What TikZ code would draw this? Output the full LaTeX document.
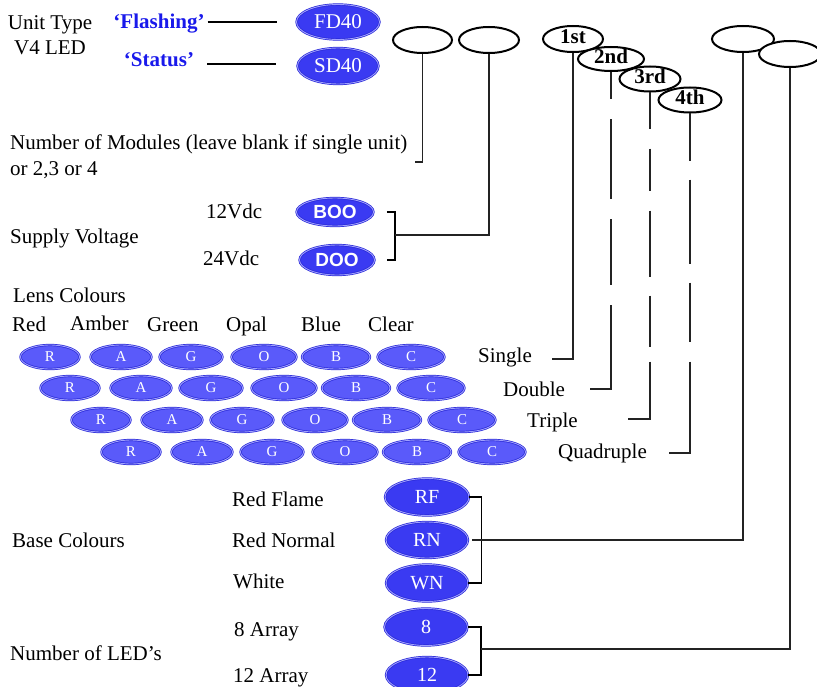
\documentclass[tikz,border=0pt]{standalone}
\usepackage{fontspec}
\setmainfont{Liberation Serif}
\newfontfamily\boosans{Liberation Sans}
\usetikzlibrary{shapes.geometric}
\definecolor{ellblue}{RGB}{58,58,242}
\definecolor{lensblue}{RGB}{90,90,250}
\definecolor{rimdark}{RGB}{40,40,215}
\definecolor{rimlight}{RGB}{160,160,255}
\definecolor{txtblue}{RGB}{25,25,235}
\definecolor{linegray}{RGB}{35,35,35}
\begin{document}
\begin{tikzpicture}[x=1bp,y=-1bp,
  lbl/.style={anchor=base west, inner sep=0pt, font=\fontsize{21bp}{24bp}\selectfont},
  clbl/.style={anchor=base, inner sep=0pt, font=\fontsize{21bp}{24bp}\selectfont},
  blueov/.style={ellipse, inner sep=0pt, draw=rimdark, line width=0.7bp, double=rimlight, double distance=0.9bp, text=white},
  bell/.style={blueov, fill=ellblue, font=\fontsize{21bp}{24bp}\selectfont},
  boo/.style={blueov, fill=ellblue, font=\boosans\bfseries\fontsize{19bp}{22bp}\selectfont},
  lens/.style={blueov, fill=lensblue, minimum height=24bp, font=\fontsize{15bp}{18bp}\selectfont},
  oval/.style={ellipse, draw=black, line width=2bp, fill=white, inner sep=0pt, text height=12bp, text depth=2bp, font=\fontsize{21bp}{24bp}\bfseries\selectfont},
  conn/.style={draw=linegray, line width=1.3bp},
  brk/.style={draw=black, line width=1.8bp},
]
\useasboundingbox (0,0) rectangle (817,687);

% Unit type
\node[clbl] (unitA) at (50,30) {Unit Type};
\node[clbl] (unitB) at (50,55) {V4 LED};
\node[clbl, text=txtblue, font=\fontsize{21bp}{24bp}\bfseries\selectfont] (flash) at (159,29) {‘Flashing’};
\node[clbl, text=txtblue, font=\fontsize{21bp}{24bp}\bfseries\selectfont] (status) at (159,67) {‘Status’};
\node[bell, minimum width=83bp, minimum height=35bp] (fd) at (338,22) {FD40};
\node[bell, minimum width=81bp, minimum height=36bp] (sd) at (338,66) {SD40};
\draw[conn, draw=black] (flash.east |- fd) ++(3,0) -- ++(69,0);
\draw[conn, draw=black] (status.east |- sd) ++(13,-2) -- ++(69,0);

% top ovals
\node[oval, minimum width=59bp, minimum height=26bp] (e1) at (422.5,40) {};
\node[oval, minimum width=60bp, minimum height=26bp] (e2) at (489,40) {};
\node[oval, minimum width=60bp, minimum height=26bp] (first) at (573,39) {1st};
\node[oval, minimum width=66bp, minimum height=24bp] (second) at (611,59) {2nd};
\node[oval, minimum width=61bp, minimum height=25bp] (third) at (650,79) {3rd};
\node[oval, minimum width=63bp, minimum height=25bp] (fourth) at (690,100) {4th};
\node[oval, minimum width=62bp, minimum height=26bp] (e5) at (743,39) {};
\node[oval, minimum width=62bp, minimum height=26bp] (e6) at (790,54) {};

% modules
\node[lbl] (mod1) at (10,150) {Number of Modules (leave blank if single unit)};
\node[lbl] (mod2) at (10,175) {or 2,3 or 4};
\coordinate (m1) at (415,162);
\draw[conn] (e1.south) |- (m1);

% supply
\node[lbl] (sup) at (10,243) {Supply Voltage};
\node[lbl] (v12) at (206,218) {12Vdc};
\node[lbl] (v24) at (203,265) {24Vdc};
\node[boo, minimum width=77bp, minimum height=28bp] (boo) at (335,212) {BOO};
\node[boo, minimum width=75bp, minimum height=30bp] (doo) at (337,260) {DOO};
\draw[brk] ([xshift=13bp]boo.east) -- ++(8,0) |- ([xshift=12bp]doo.east);
\coordinate (sv) at (395,235);
\draw[conn] (e2.south) |- (sv);

% lens colours
\node[lbl] (lensc) at (13,302) {Lens Colours};
\node[lbl] (hr) at (12,331) {Red};
\node[lbl] (ha) at (70,330) {Amber};
\node[lbl] (hg) at (147,331) {Green};
\node[lbl] (ho) at (226,331) {Opal};
\node[lbl] (hb) at (301,331) {Blue};
\node[lbl] (hc) at (368,331) {Clear};
\foreach \r/\dx/\dy in {1/0/0,2/20/31,3/51/63,4/81/95}{
  \foreach \c/\x/\w/\t in {1/50/59/R,2/121/61/A,3/191/63/G,4/264/65/O,5/336/68/B,6/411/67/C}{
    \node[lens, minimum width=\w bp] (lens\r\c) at (\x+\dx,357+\dy) {\t};
  }
}
\node[lbl] (single) at (478,362) {Single};
\node[lbl] (double) at (503,396) {Double};
\node[lbl] (triple) at (527,427) {Triple};
\node[lbl] (quad) at (558,458) {Quadruple};
\coordinate (c1) at (552,359);
\coordinate (c2) at (590,389);
\coordinate (c3) at (628,419);
\coordinate (c4) at (669,453);
\draw[conn] (first.south) |- (c1);
\draw[conn, dash pattern=on 27bp off 20bp on 80bp off 20bp on 66bp off 20bp on 400bp] (second.south) |- (c2);
\draw[conn, dash pattern=on 36bp off 20bp on 42bp off 20bp on 66bp off 19bp on 51bp off 15bp on 400bp] (third.south) |- (c3);
\draw[conn, dash pattern=on 47bp off 19bp on 84bp off 19bp on 59bp off 20bp on 400bp] (fourth.south) |- (c4);

% base colours
\node[lbl] (basec) at (12,547) {Base Colours};
\node[lbl] (rflame) at (232,506) {Red Flame};
\node[lbl] (rnorm) at (232,547) {Red Normal};
\node[lbl] (white) at (233,588) {White};
\node[bell, minimum width=84bp, minimum height=37bp, font=\fontsize{20bp}{24bp}\selectfont] (rf) at (427,497) {RF};
\node[bell, minimum width=82bp, minimum height=36bp, font=\fontsize{20bp}{24bp}\selectfont] (rn) at (427,540) {RN};
\node[bell, minimum width=82bp, minimum height=37bp, font=\fontsize{20bp}{24bp}\selectfont] (wn) at (427,583) {WN};
\draw[brk, line width=1.5bp] (rf.east) -- ++(12,0) |- (wn.east);
\draw[conn] (e5.south) |- ([xshift=4bp]rn.east);

% LEDs
\node[lbl] (ledtxt) at (10,660) {Number of LED’s};
\node[lbl] (a8) at (234,636) {8 Array};
\node[lbl] (a12) at (233,682) {12 Array};
\node[bell, minimum width=83bp, minimum height=37bp, font=\fontsize{20bp}{24bp}\selectfont] (led8) at (426,627) {8};
\node[bell, minimum width=82bp, minimum height=36bp, font=\fontsize{20bp}{24bp}\selectfont] (led12) at (427,675) {12};
\draw[brk, line width=1.5bp] (led8.east) -- ++(13,0) |- (led12.east);
\coordinate (lj) at (481,649);
\draw[conn] (e6.south) |- (lj);
\end{tikzpicture}
\end{document}
